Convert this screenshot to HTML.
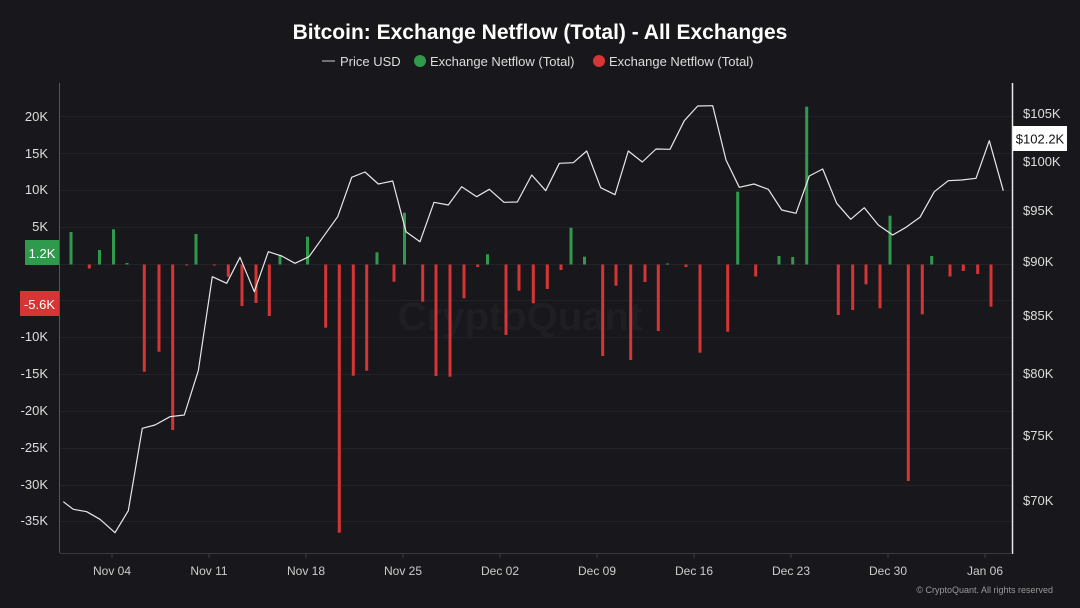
<!DOCTYPE html>
<html><head><meta charset="utf-8"><style>
html,body{margin:0;padding:0;background:#18181c;}
svg{display:block}
text{font-family:"Liberation Sans",sans-serif;}
</style></head><body>
<svg width="1080" height="608" viewBox="0 0 1080 608" xmlns="http://www.w3.org/2000/svg">
<rect width="1080" height="608" fill="#18181c"/>
<text x="540" y="39" text-anchor="middle" fill="#fff" font-size="21" font-weight="bold">Bitcoin: Exchange Netflow (Total) - All Exchanges</text>
<line x1="322" y1="61" x2="335" y2="61" stroke="#ccc" stroke-width="1"/>
<text x="340" y="66" fill="#ddd" font-size="13">Price USD</text>
<circle cx="420" cy="61" r="6" fill="#2f9a4c"/>
<text x="430" y="66" fill="#ddd" font-size="13">Exchange Netflow (Total)</text>
<circle cx="599" cy="61" r="6" fill="#d63535"/>
<text x="609" y="66" fill="#ddd" font-size="13">Exchange Netflow (Total)</text>
<g stroke="#222227" stroke-width="1">
<line x1="60" y1="116.5" x2="1012" y2="116.5"/><line x1="60" y1="153.5" x2="1012" y2="153.5"/>
<line x1="60" y1="190.5" x2="1012" y2="190.5"/><line x1="60" y1="227.5" x2="1012" y2="227.5"/>
<line x1="60" y1="264.5" x2="1012" y2="264.5"/><line x1="60" y1="300.5" x2="1012" y2="300.5"/>
<line x1="60" y1="337.5" x2="1012" y2="337.5"/><line x1="60" y1="374.5" x2="1012" y2="374.5"/>
<line x1="60" y1="411.5" x2="1012" y2="411.5"/><line x1="60" y1="448.5" x2="1012" y2="448.5"/>
<line x1="60" y1="485.5" x2="1012" y2="485.5"/><line x1="60" y1="521.5" x2="1012" y2="521.5"/>
</g>
<text x="520" y="330" text-anchor="middle" fill="#1e1e23" font-size="40" font-weight="bold">CryptoQuant</text>
<g fill="#2f9a4c">
<rect x="69.5" y="232" width="3" height="32.5"/><rect x="98" y="250" width="3" height="14.5"/>
<rect x="112" y="229.3" width="3" height="35.2"/><rect x="125.5" y="263" width="3" height="1.5"/>
<rect x="194.5" y="234" width="3" height="30.5"/><rect x="278.5" y="255" width="3" height="9.5"/>
<rect x="306" y="236.7" width="3" height="27.8"/><rect x="375.5" y="252.3" width="3" height="12.2"/>
<rect x="403" y="212.7" width="3" height="51.8"/><rect x="486" y="254.3" width="3" height="10.2"/>
<rect x="569.5" y="227.7" width="3" height="36.8"/><rect x="583" y="256.7" width="3" height="7.8"/>
<rect x="666" y="263.5" width="3" height="1"/><rect x="736.2" y="191.7" width="3" height="72.8"/>
<rect x="777.5" y="256" width="3" height="8.5"/><rect x="791.2" y="257" width="3" height="7.5"/>
<rect x="805.2" y="106.7" width="3" height="157.8"/><rect x="888.5" y="215.7" width="3" height="48.8"/>
<rect x="930.2" y="256" width="3" height="8.5"/>
</g>
<g fill="#d63535">
<rect x="87.8" y="264.5" width="3" height="4"/><rect x="142.8" y="264.5" width="3" height="107.2"/>
<rect x="157.5" y="264.5" width="3" height="87.2"/><rect x="171.2" y="264.5" width="3" height="165.5"/>
<rect x="185.2" y="264.5" width="3" height="1"/><rect x="212.8" y="264.5" width="3" height="1"/>
<rect x="226.8" y="264.5" width="3" height="12.2"/><rect x="240.5" y="264.5" width="3" height="41.5"/>
<rect x="254.5" y="264.5" width="3" height="38.5"/><rect x="267.8" y="264.5" width="3" height="51.5"/>
<rect x="324.2" y="264.5" width="3" height="63.2"/><rect x="337.8" y="264.5" width="3" height="268.2"/>
<rect x="351.8" y="264.5" width="3" height="111.2"/><rect x="365.2" y="264.5" width="3" height="106.2"/>
<rect x="392.5" y="264.5" width="3" height="17.2"/><rect x="421.2" y="264.5" width="3" height="37.2"/>
<rect x="434.5" y="264.5" width="3" height="111.5"/><rect x="448.5" y="264.5" width="3" height="112.2"/>
<rect x="462.5" y="264.5" width="3" height="33.8"/><rect x="476.2" y="264.5" width="3" height="2.5"/>
<rect x="504.5" y="264.5" width="3" height="70.5"/><rect x="517.5" y="264.5" width="3" height="26.2"/>
<rect x="531.8" y="264.5" width="3" height="38.8"/><rect x="545.8" y="264.5" width="3" height="24.5"/>
<rect x="559.5" y="264.5" width="3" height="5.5"/><rect x="601.2" y="264.5" width="3" height="91.5"/>
<rect x="614.5" y="264.5" width="3" height="21.2"/><rect x="629.2" y="264.5" width="3" height="95.5"/>
<rect x="643.5" y="264.5" width="3" height="17.5"/><rect x="656.8" y="264.5" width="3" height="66.5"/>
<rect x="684.5" y="264.5" width="3" height="2.5"/><rect x="698.5" y="264.5" width="3" height="88.2"/>
<rect x="726.2" y="264.5" width="3" height="67.2"/><rect x="754.2" y="264.5" width="3" height="12"/>
<rect x="836.8" y="264.5" width="3" height="50.5"/><rect x="851.2" y="264.5" width="3" height="45.5"/>
<rect x="864.5" y="264.5" width="3" height="19.8"/><rect x="878.5" y="264.5" width="3" height="43.8"/>
<rect x="906.8" y="264.5" width="3" height="216.5"/><rect x="920.8" y="264.5" width="3" height="49.8"/>
<rect x="948.5" y="264.5" width="3" height="12"/><rect x="961.8" y="264.5" width="3" height="6.5"/>
<rect x="976.2" y="264.5" width="3" height="9.5"/><rect x="989.5" y="264.5" width="3" height="42.2"/>
</g>
<polyline fill="none" stroke="#e8e8e8" stroke-width="1.2" stroke-linejoin="round" points="63.3,501.7 73.3,509.3 86.7,511.7 100,519.3 115,532.7 128.3,510.7 142.3,428.3 155,425 170,416.7 184.3,415 198.3,370.7 212.3,276.7 226.7,283.3 240,257.3 254.3,291.7 268.3,251.7 281.7,256 295,263.3 309,256.7 323.3,236.7 337.7,216.7 351.7,177.3 365,172 378.3,184 392.7,181 406,231.7 420,241.7 434,202.3 448.3,205 461.7,186.7 476.7,196.7 489.3,189.3 504,202.3 517.3,202 531.7,175 545.7,190.7 559.3,163.3 573.3,162.7 586.7,151 600.7,187.7 615,194.7 628.3,151 642.3,162 656,149 670,149.3 684.3,120.7 697.7,106 712.7,105.7 726,160 739.3,187.3 754,184 768.3,189.3 781.7,210 796,213.3 809.3,176 822.7,169 836.7,203.3 850.7,219.3 864.3,207.7 878.3,225 892.7,235 906,227.3 920,217.3 934.3,191.7 948.3,180.7 961.7,180 976,178.3 989.3,140.7 1003.3,190.7"/>
<line x1="59.5" y1="83" x2="59.5" y2="553" stroke="#55555c" stroke-width="1"/>
<line x1="1012.5" y1="83" x2="1012.5" y2="554" stroke="#e8e8e8" stroke-width="1.5"/>
<line x1="60" y1="553.5" x2="1012" y2="553.5" stroke="#3a3a40" stroke-width="1"/>
<g stroke="#3a3a40"><line x1="112" y1="553" x2="112" y2="558"/><line x1="209" y1="553" x2="209" y2="558"/><line x1="306" y1="553" x2="306" y2="558"/><line x1="403" y1="553" x2="403" y2="558"/><line x1="500" y1="553" x2="500" y2="558"/><line x1="597" y1="553" x2="597" y2="558"/><line x1="694" y1="553" x2="694" y2="558"/><line x1="791" y1="553" x2="791" y2="558"/><line x1="888" y1="553" x2="888" y2="558"/><line x1="985" y1="553" x2="985" y2="558"/></g>
<g fill="#ccc" font-size="12" text-anchor="middle">
<text x="112" y="575">Nov 04</text><text x="209" y="575">Nov 11</text><text x="306" y="575">Nov 18</text><text x="403" y="575">Nov 25</text><text x="500" y="575">Dec 02</text><text x="597" y="575">Dec 09</text><text x="694" y="575">Dec 16</text><text x="791" y="575">Dec 23</text><text x="888" y="575">Dec 30</text><text x="985" y="575">Jan 06</text>
</g>
<g fill="#ddd" font-size="13" text-anchor="end">
<text x="48" y="121">20K</text><text x="48" y="158">15K</text><text x="48" y="194">10K</text><text x="48" y="231">5K</text>
<text x="48" y="341">-10K</text><text x="48" y="378">-15K</text><text x="48" y="415">-20K</text><text x="48" y="452">-25K</text><text x="48" y="489">-30K</text><text x="48" y="525">-35K</text>
</g>
<rect x="25" y="240" width="34" height="25" fill="#2f9a4c"/>
<text x="42" y="258" text-anchor="middle" fill="#fff" font-size="13">1.2K</text>
<rect x="20" y="291" width="39" height="25" fill="#d63535"/>
<text x="39.5" y="309" text-anchor="middle" fill="#fff" font-size="13">-5.6K</text>
<g fill="#ddd" font-size="13">
<text x="1023" y="118">$105K</text><text x="1023" y="166">$100K</text><text x="1023" y="215">$95K</text><text x="1023" y="266">$90K</text><text x="1023" y="320">$85K</text><text x="1023" y="378">$80K</text><text x="1023" y="440">$75K</text><text x="1023" y="505">$70K</text>
</g>
<rect x="1013" y="126" width="54" height="25" fill="#fff"/>
<text x="1040" y="143.5" text-anchor="middle" fill="#111" font-size="13">$102.2K</text>
<text x="1053" y="593" text-anchor="end" fill="#999" font-size="9">© CryptoQuant. All rights reserved</text>
</svg>
</body></html>
